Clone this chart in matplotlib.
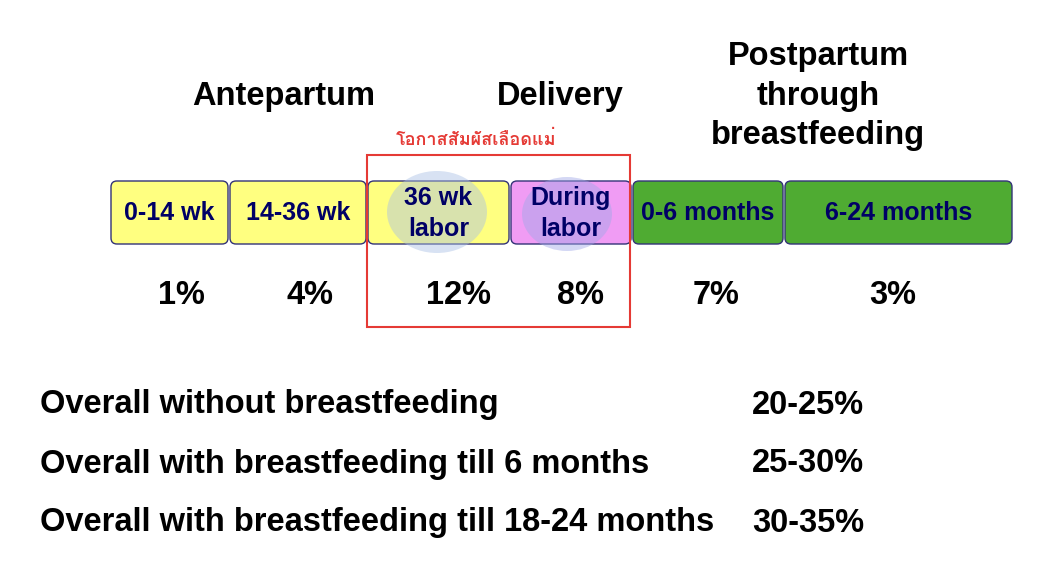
import matplotlib.pyplot as plt
from matplotlib import font_manager
from matplotlib.ft2font import FT2Font
from matplotlib.patches import FancyBboxPatch, Ellipse, Rectangle

plt.rcParams['font.family'] = ['Liberation Sans', 'DejaVu Sans']

# stages of the timeline
stage_labels = ['0-14 wk', '14-36 wk', '36 wk\nlabor', 'During\nlabor', '0-6 months', '6-24 months']
stage_rates = ['1%', '4%', '12%', '8%', '7%', '3%']
stage_colors = ['#ffff80', '#ffff80', '#ffff80', '#f09cf4', '#4fab32', '#4fab32']
stage_edges = [110, 229, 367, 510, 632, 784, 1013]
rate_x = [181, 310, 458, 580, 716, 893]

periods = ['Antepartum', 'Delivery', 'Postpartum\nthrough\nbreastfeeding']
period_x = [284, 560, 818]

overall_labels = ['Overall without breastfeeding',
                  'Overall with breastfeeding till 6 months',
                  'Overall with breastfeeding till 18-24 months']
overall_rates = ['20-25%', '25-30%', '30-35%']

thai_note = 'โอกาสสัมผัสเลือดแม่'

# look for any installed font that has Thai glyphs
thai_family = []
for f in font_manager.fontManager.ttflist:
    try:
        if 0x0E01 in FT2Font(f.fname).get_charmap():
            thai_family = [f.name]
            break
    except Exception:
        pass

fig = plt.figure(figsize=(10.59, 5.78), dpi=100)
ax = fig.add_axes([0, 0, 1, 1])
ax.set_xlim(0, 1059)
ax.set_ylim(578, 0)
ax.axis('off')

navy = '#000066'
top, bottom = 181, 244
big = 23.5

# period headers
for lab, x in zip(periods, period_x):
    ax.text(x, 96, lab, ha='center', va='center', fontsize=big, fontweight='bold',
            linespacing=1.36, color='black')

# boxes
for i, lab in enumerate(stage_labels):
    x0, x1 = stage_edges[i] + 1, stage_edges[i + 1] - 1
    box = FancyBboxPatch((x0 + 6, top + 6), x1 - x0 - 12, bottom - top - 12,
                         boxstyle='round,pad=6', fc=stage_colors[i],
                         ec='#333377', lw=1.0, zorder=2)
    ax.add_patch(box)
    ax.text((x0 + x1) / 2, (top + bottom) / 2 + 1, lab, ha='center', va='center',
            fontsize=18, fontweight='bold', color=navy, linespacing=1.35, zorder=5)

# translucent highlight blobs
ax.add_patch(Ellipse((437, 212), 100, 82, fc='#a9c0e6', alpha=0.45, ec='none', zorder=3))
ax.add_patch(Ellipse((567, 214), 90, 74, fc='#a0a8e8', alpha=0.45, ec='none', zorder=3))

# percentages
for r, x in zip(stage_rates, rate_x):
    ax.text(x, 295, r, ha='center', va='center', fontsize=big, fontweight='bold')

# red highlight rectangle and note
ax.add_patch(Rectangle((367, 155), 263, 172, fill=False, ec='#e53a35', lw=1.5, zorder=6))
ax.text(476, 140, thai_note, ha='center', va='center', fontsize=13, fontweight='bold',
        color='#e53a35', family=thai_family + ['DejaVu Sans'])

# overall rows
for j, (lab, r) in enumerate(zip(overall_labels, overall_rates)):
    y = 405 + 59 * j
    ax.text(40, y, lab, ha='left', va='center', fontsize=big, fontweight='bold')
    ax.text(752, y, r, ha='left', va='center', fontsize=big, fontweight='bold')

fig.savefig('out.png', dpi=100)
